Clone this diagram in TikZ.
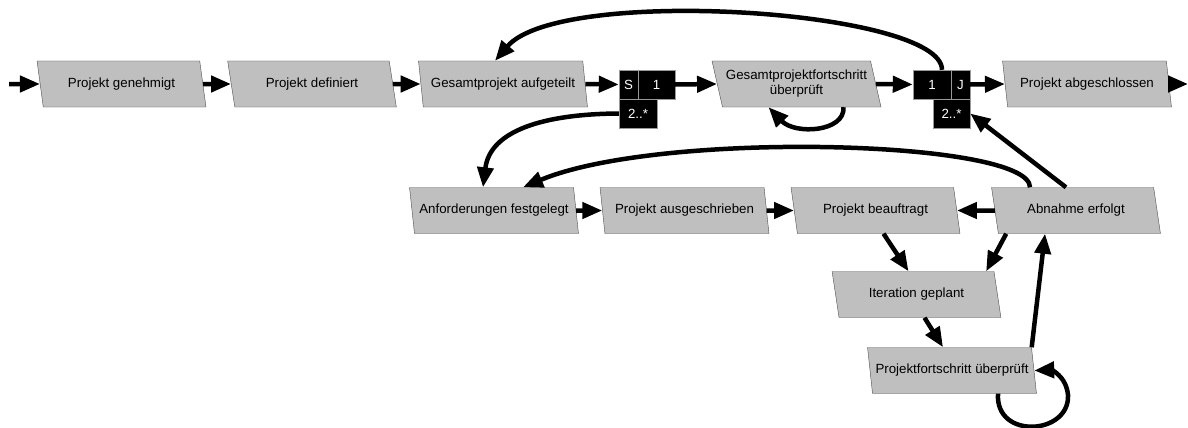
\documentclass[tikz,border=0pt]{standalone}
\usepackage{fontspec}
\setmainfont{Liberation Sans}
\usetikzlibrary{shapes.geometric,arrows.meta}
\tikzset{
  state/.style={trapezium, trapezium left angle=109, trapezium right angle=71,
    trapezium stretches=true, draw=black!70, fill=black!25,
    minimum width=169pt, minimum height=46pt, inner sep=0pt, align=center},
  bar/.style={fill=black, draw=black!40, text=white, minimum height=29pt, inner sep=0pt},
  flow/.style={line width=4.5pt, -{Triangle[length=20pt,width=16pt]}},
}
\begin{document}
\begin{tikzpicture}[x=1pt,y=-1pt,font=\fontsize{13.3}{15}\selectfont]
  \useasboundingbox (0,0) rectangle (1188,428);
  % main line
  \node[state] (gen) at (121.5,84) {Projekt genehmigt};
  \node[state] (def) at (312,84) {Projekt definiert};
  \node[state] (auf) at (503,84) {Gesamtprojekt aufgeteilt};
  \node[state,inner xsep=-4pt] (ges) at (796.5,84) {Gesamtprojektfortschritt\\überprüft};
  \node[state] (abg) at (1087,84) {Projekt abgeschlossen};
  % split and join bars
  \node[bar,minimum width=19pt] (splitS) at (628.5,84.5) {S};
  \node[bar,minimum width=37pt] (split1) at (656.5,84.5) {1};
  \node[bar,minimum width=38pt] (splitN) at (638,113.5) {2..*};
  \node[bar,minimum width=38pt] (join1) at (932,84.5) {1};
  \node[bar,minimum width=19pt] (joinJ) at (960.5,84.5) {J};
  \node[bar,minimum width=37pt] (joinN) at (951.5,113.5) {2..*};
  % iteration part
  \node[state,inner xsep=-6pt] (anf) at (494,210.5) {Anforderungen festgelegt};
  \node[state] (aus) at (684.5,210.5) {Projekt ausgeschrieben};
  \node[state] (bea) at (875.5,210.5) {Projekt beauftragt};
  \node[state] (abn) at (1076,210.5) {Abnahme erfolgt};
  \node[state] (ite) at (916.5,294.5) {Iteration geplant};
  \node[state,inner xsep=-8pt] (pfu) at (952,370.5) {Projektfortschritt überprüft};
  \coordinate (in) at (9,84);
  \coordinate (out) at (1188,84);

  \draw[flow] (in) -- (gen.west);
  \draw[flow] (gen.east) -- (def.west);
  \draw[flow] (def.east) -- (auf.west);
  \draw[flow] (auf.east) -- (splitS.west);
  \draw[flow] (split1.east) -- (ges.west);
  \draw[flow] (ges.east) -- (join1.west);
  \draw[flow] (joinJ.east) -- (abg.west);
  \draw[flow] (abg.east) -- (out);
  % back from join to split
  \draw[flow] ([xshift=10pt]join1.north) .. controls (942,10) and (560,-15) .. ([xshift=-8pt]auf.north);
  \draw[flow] ([xshift=47pt]ges.south) .. controls (845,132) and (795,135) .. ([xshift=-28pt]ges.south);
  \draw[flow] (splitN.west) .. controls (545,114) and (490,130) .. ([xshift=-11pt]anf.north);
  \draw[flow] (anf.east) -- (aus.west);
  \draw[flow] (aus.east) -- (bea.west);
  \draw[flow] (abn.west) -- (bea.east);
  \draw[flow] ([xshift=8pt]bea.south) -- ([xshift=-8pt]ite.north);
  \draw[flow] ([xshift=8pt]abn.bottom left corner) -- ([xshift=-8pt]ite.top right corner);
  \draw[flow] ([xshift=8pt]ite.south) -- ([xshift=-9pt]pfu.north);
  \draw[flow] (pfu.top right corner) -- ([xshift=-31pt]abn.south);
  \draw[flow] ([xshift=46pt]pfu.south) .. controls (995,440) and (1070,435) .. (1068,395)
    .. controls (1066,375) and (1050,370) .. (pfu.east);
  % back from acceptance
  \draw[flow] ([xshift=-46pt]abn.north) .. controls (1030,140) and (660,130) .. ([xshift=29pt]anf.north);
  \draw[flow] ([xshift=-10pt]abn.north) -- (joinN.east);
\end{tikzpicture}
\end{document}
